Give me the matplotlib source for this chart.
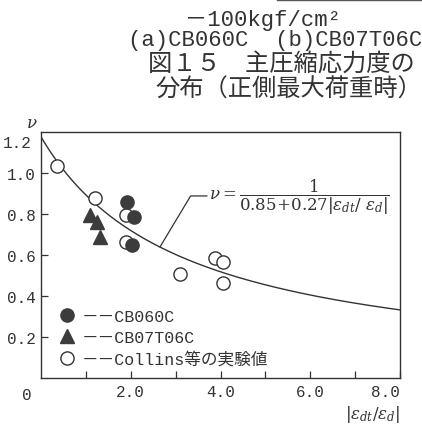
import numpy as np
import matplotlib
matplotlib.use("Agg")
import matplotlib.pyplot as plt
from matplotlib.lines import Line2D
from matplotlib.ticker import FixedLocator, FormatStrFormatter

# strain ratio |eps_dt/eps_d| and efficiency factor nu
cb060c_x = [1.91, 2.07, 2.03]
cb060c_nu = [0.86, 0.785, 0.649]
cb07t06c_x = [1.09, 1.25, 1.31]
cb07t06c_nu = [0.795, 0.76, 0.688]
collins_x = [0.36, 1.20, 1.89, 1.89, 3.10, 3.88, 4.05, 4.05]
collins_nu = [1.034, 0.878, 0.795, 0.663, 0.507, 0.585, 0.566, 0.463]

# nu = 1 / (A + B*|eps_dt/eps_d|)
COEF_A = 0.85
COEF_B = 0.27

labels = ["－－CB060C", "－－CB07T06C", "－－Collins等の実験値"]
x_major = [2, 4, 6, 8]
x_minor = [1, 3, 5, 7]
y_major = [0.2, 0.4, 0.6, 0.8, 1.0]
y_top = 1.2

INK = "#333333"
MONO = ["Liberation Mono", "Noto Sans CJK JP"]
CJK = ["Noto Sans CJK JP"]

plt.rcParams["mathtext.fontset"] = "dejavuserif"


def nu(r):
    return 1.0 / (COEF_A + COEF_B * np.asarray(r))


fig = plt.figure(figsize=(4.22, 4.27), dpi=100)
ax = fig.add_axes([41 / 422, 48 / 427, 359 / 422, 246 / 427])

r = np.linspace(0, 8, 200)
ax.plot(r, nu(r), color=INK, lw=1.0, zorder=2)

h_col, = ax.plot(collins_x, collins_nu, "o", ms=9.5, mfc="white", mec=INK,
                 mew=1.0, zorder=3)
h_cb6, = ax.plot(cb060c_x, cb060c_nu, "o", ms=9.5, mfc="#3c3c3c", mec="#3c3c3c",
                 zorder=4)
h_cb7, = ax.plot(cb07t06c_x, cb07t06c_nu, "^", ms=10, mfc="#3c3c3c",
                 mec="#3c3c3c", zorder=4)

ax.set_xlim(0, 8)
ax.set_ylim(0, y_top)

ax.xaxis.set_major_locator(FixedLocator(x_major))
ax.xaxis.set_minor_locator(FixedLocator(x_minor))
ax.xaxis.set_major_formatter(FormatStrFormatter("%.1f"))
ax.yaxis.set_major_locator(FixedLocator(y_major))
ax.yaxis.set_major_formatter(FormatStrFormatter("%.1f"))
ax.tick_params(which="both", direction="in", length=5, width=0.9, color=INK,
               labelcolor=INK, labelsize=11.5, pad=4)
for lab in ax.get_xticklabels() + ax.get_yticklabels():
    lab.set_family(MONO)
# last x label kept inside the frame
ax.get_xticklabels()[-1].set_ha("right")
for s in ax.spines.values():
    s.set_color(INK)
    s.set_linewidth(1.0)

# top value sits just under the frame corner, "0" shared by both axes
ytr = ax.get_yaxis_transform()
ax.text(-0.025, y_top - 0.015, f"{y_top:.1f}", transform=ytr, ha="right",
        va="top", family=MONO, fontsize=11.5, color=INK)
ax.text(-0.025, -0.035, "0", transform=ax.transAxes, ha="right", va="top",
        family=MONO, fontsize=11.5, color=INK)
ax.text(-0.025, 1.005, r"$\nu$", transform=ax.transAxes, ha="center",
        va="bottom", fontsize=12, color=INK)
ax.set_xlabel(r"$|\varepsilon_{dt}/\varepsilon_{d}|$", loc="right",
              fontsize=12, color=INK, labelpad=3)

# design curve annotation
r0 = 2.65
ax.annotate("", xy=(r0, nu(r0)), xytext=(3.70, 0.888),
            arrowprops=dict(arrowstyle="-", color=INK, lw=0.9,
                            connectionstyle="angle,angleA=0,angleB=59,rad=0",
                            shrinkA=0, shrinkB=0))
ax.text(3.74, 0.888,
        r"$\nu=\dfrac{1}{0.85\!+\!0.27|\varepsilon_{dt}/\ \varepsilon_{d}|}$",
        ha="left", va="center", fontsize=12, color=INK)

leg = ax.legend([h_cb6, h_cb7, h_col], labels, loc="lower left",
                bbox_to_anchor=(0.03, 0.02), frameon=False, numpoints=1,
                handlelength=1.0, handletextpad=0.4, labelspacing=0.35,
                borderaxespad=0, prop={"family": MONO, "size": 12})
for t in leg.get_texts():
    t.set_color(INK)

# caption block above the chart
fig.add_artist(Line2D([277 / 422, 1.0], [1 - 1 / 427] * 2, color="#555555",
                      lw=1.0))
fig.text(0.624, 0.953, "－100kgf/cm²", ha="center", va="center", family=MONO,
         fontsize=16, color=INK)
fig.text(1.0, 0.906, "(a)CB060C  (b)CB07T06C", ha="right", va="center",
         family=MONO, fontsize=16, color=INK)
fig.text(0.983, 0.848, "図１５　主圧縮応力度の", ha="right", va="center",
         family=CJK, fontsize=17.5, color=INK)
fig.text(1.0, 0.791, "分布（正側最大荷重時）", ha="right", va="center",
         family=CJK, fontsize=17.5, color=INK)

fig.savefig("out.png", dpi=100)
